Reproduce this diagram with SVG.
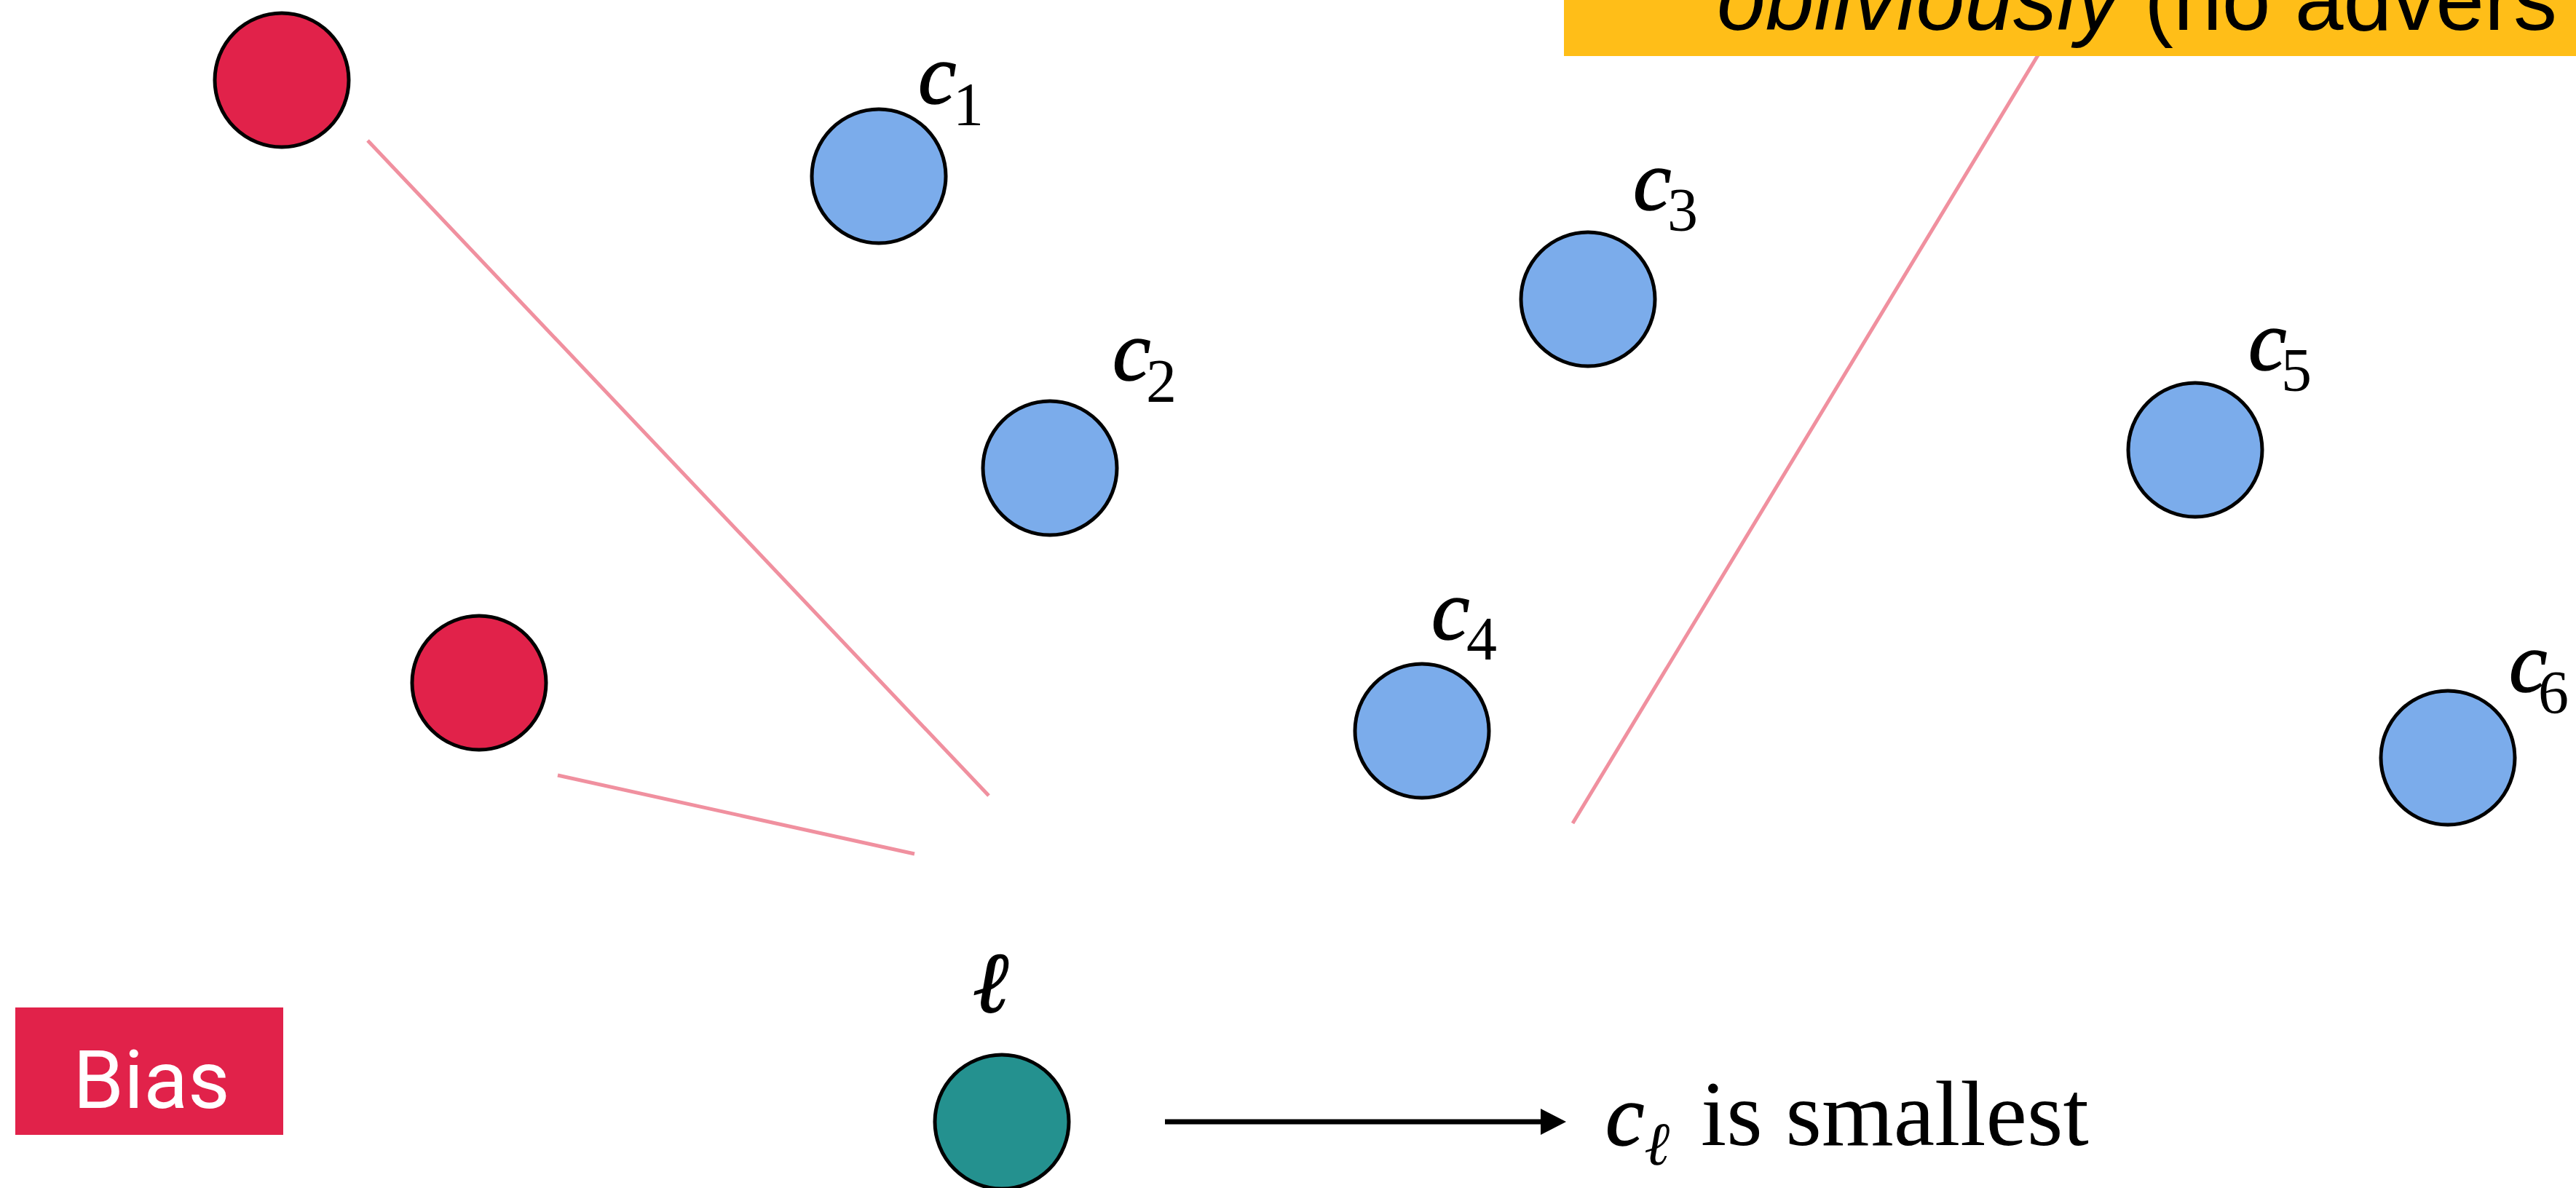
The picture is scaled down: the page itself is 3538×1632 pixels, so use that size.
<svg xmlns="http://www.w3.org/2000/svg" width="3538" height="1632" viewBox="0 0 3538 1632">
<style>
.red{fill:#E1224A;stroke:#000;stroke-width:5}
.blue{fill:#7BACEB;stroke:#000;stroke-width:5}
.teal{fill:#24918F;stroke:#000;stroke-width:5}
.pink{stroke:#F0909F;stroke-width:5;fill:none}
.m{font-family:"Liberation Serif","Times New Roman",serif;font-style:italic;font-size:118px;fill:#000;stroke:#000;stroke-width:1.5}
.sub{font-style:normal;font-size:84px;stroke-width:0}
</style>
<rect width="3538" height="1632" fill="#fff"/>
<g id="connectors">
<line class="pink" x1="505" y1="193" x2="1358" y2="1093"/>
<line class="pink" x1="766" y1="1065" x2="1256" y2="1173"/>
<line class="pink" x1="2160" y1="1131" x2="2845" y2="0"/>
<line x1="1600" y1="1541" x2="2120" y2="1541" stroke="#000" stroke-width="7"/>
<polygon points="2116,1523 2151,1541 2116,1559" fill="#000"/>
</g>
<g id="banner">
<rect x="2148" y="-10" width="1400" height="87" fill="#FFBE18"/>
<text x="2358" y="41" font-family="Liberation Sans, Arial, sans-serif" font-size="120" fill="#000"><tspan font-style="italic">obliviously</tspan> (no advers</text>
</g>
<g id="bias1"><circle class="red" cx="387" cy="110" r="92"/></g>
<g id="bias2"><circle class="red" cx="658" cy="938" r="92"/></g>
<g id="c1"><circle class="blue" cx="1207" cy="242" r="92"/><text class="m" x="1261" y="142">c<tspan class="sub" x="1309" dy="30">1</tspan></text></g>
<g id="c2"><circle class="blue" cx="1442" cy="643" r="92"/><text class="m" x="1528" y="522">c<tspan class="sub" x="1574" dy="30">2</tspan></text></g>
<g id="c3"><circle class="blue" cx="2181" cy="411" r="92"/><text class="m" x="2243" y="288">c<tspan class="sub" x="2290" dy="29">3</tspan></text></g>
<g id="c4"><circle class="blue" cx="1953" cy="1004" r="92"/><text class="m" x="1966" y="878">c<tspan class="sub" x="2014" dy="28">4</tspan></text></g>
<g id="c5"><circle class="blue" cx="3015" cy="618" r="92"/><text class="m" x="3088" y="508">c<tspan class="sub" x="3133" dy="29">5</tspan></text></g>
<g id="c6"><circle class="blue" cx="3362" cy="1041" r="92"/><text class="m" x="3446" y="950">c<tspan class="sub" x="3486" dy="30">6</tspan></text></g>
<g id="ell"><circle class="teal" cx="1376" cy="1541" r="92"/><text class="m" x="1336" y="1390" font-size="128" stroke-width="0">ℓ</text></g>
<g id="result"><text class="m" y="1573"><tspan x="2205" font-size="120">c</tspan><tspan font-size="84" dy="27" stroke-width="0">ℓ</tspan><tspan x="2336" dy="-27" font-style="normal" font-size="127" stroke-width="0">is smallest</tspan></text></g>
<g id="biasLabel"><rect x="21" y="1384" width="368" height="175" fill="#E1224A"/><text x="208" y="1522" text-anchor="middle" font-family="Roboto, sans-serif" font-size="112" fill="#fff">Bias</text></g>
</svg>
